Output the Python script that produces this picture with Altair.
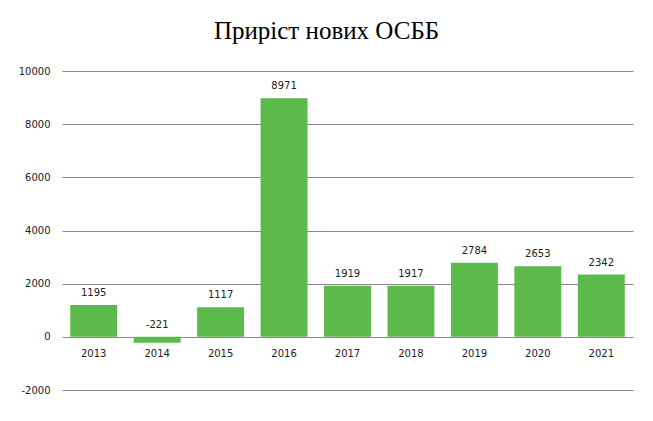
import altair as alt
import pandas as pd

years = ["2013", "2014", "2015", "2016", "2017", "2018", "2019", "2020", "2021"]
values = [1195, -221, 1117, 8971, 1919, 1917, 2784, 2653, 2342]

df = pd.DataFrame({"year": years, "value": values})
df["labelpos"] = df["value"].clip(lower=0)
df["zero"] = 0
df["label"] = df["value"].astype(str)

FONT = "DejaVu Sans"
x = alt.X("year:N", sort=years, axis=None,
          scale=alt.Scale(paddingInner=0.26, paddingOuter=0.13))
yscale = alt.Scale(domain=[-2000, 10000], nice=False)

bars = alt.Chart(df).mark_bar(color="#5BBA4A").encode(
    x=x,
    y=alt.Y("value:Q", scale=yscale, title=None,
            axis=alt.Axis(values=[-2000, 0, 2000, 4000, 6000, 8000, 10000],
                          labelExpr="'' + datum.value",
                          domain=False, ticks=False, labelPadding=12,
                          labelFont=FONT, labelFontSize=10, labelColor="#222222",
                          gridColor="#8a8a8a", gridWidth=1, gridOpacity=1)),
    y2=alt.Y2("zero:Q"),
)

labels = alt.Chart(df).mark_text(font=FONT, fontSize=10, color="#222222",
                                 baseline="bottom", dy=-7).encode(
    x=x, y=alt.Y("labelpos:Q", scale=yscale), text="label:N")

xlabels = alt.Chart(df).mark_text(font=FONT, fontSize=10, color="#222222",
                                  baseline="middle", dy=17).encode(
    x=x, y=alt.Y("zero:Q", scale=yscale), text="year:N")

chart = alt.layer(bars, labels, xlabels).properties(
    width=571, height=319,
    autosize=alt.AutoSizeParams(type="none"),
    padding={"left": 54, "top": 63, "right": 12, "bottom": 23},
    title=alt.TitleParams("Приріст нових ОСББ", font="Liberation Serif", fontSize=25,
                          fontWeight="normal", color="#000000", anchor="middle",
                          dx=-21, offset=22),
).configure_view(stroke=None)

chart.save("out.html", embed_options={"renderer": "svg", "actions": False})
